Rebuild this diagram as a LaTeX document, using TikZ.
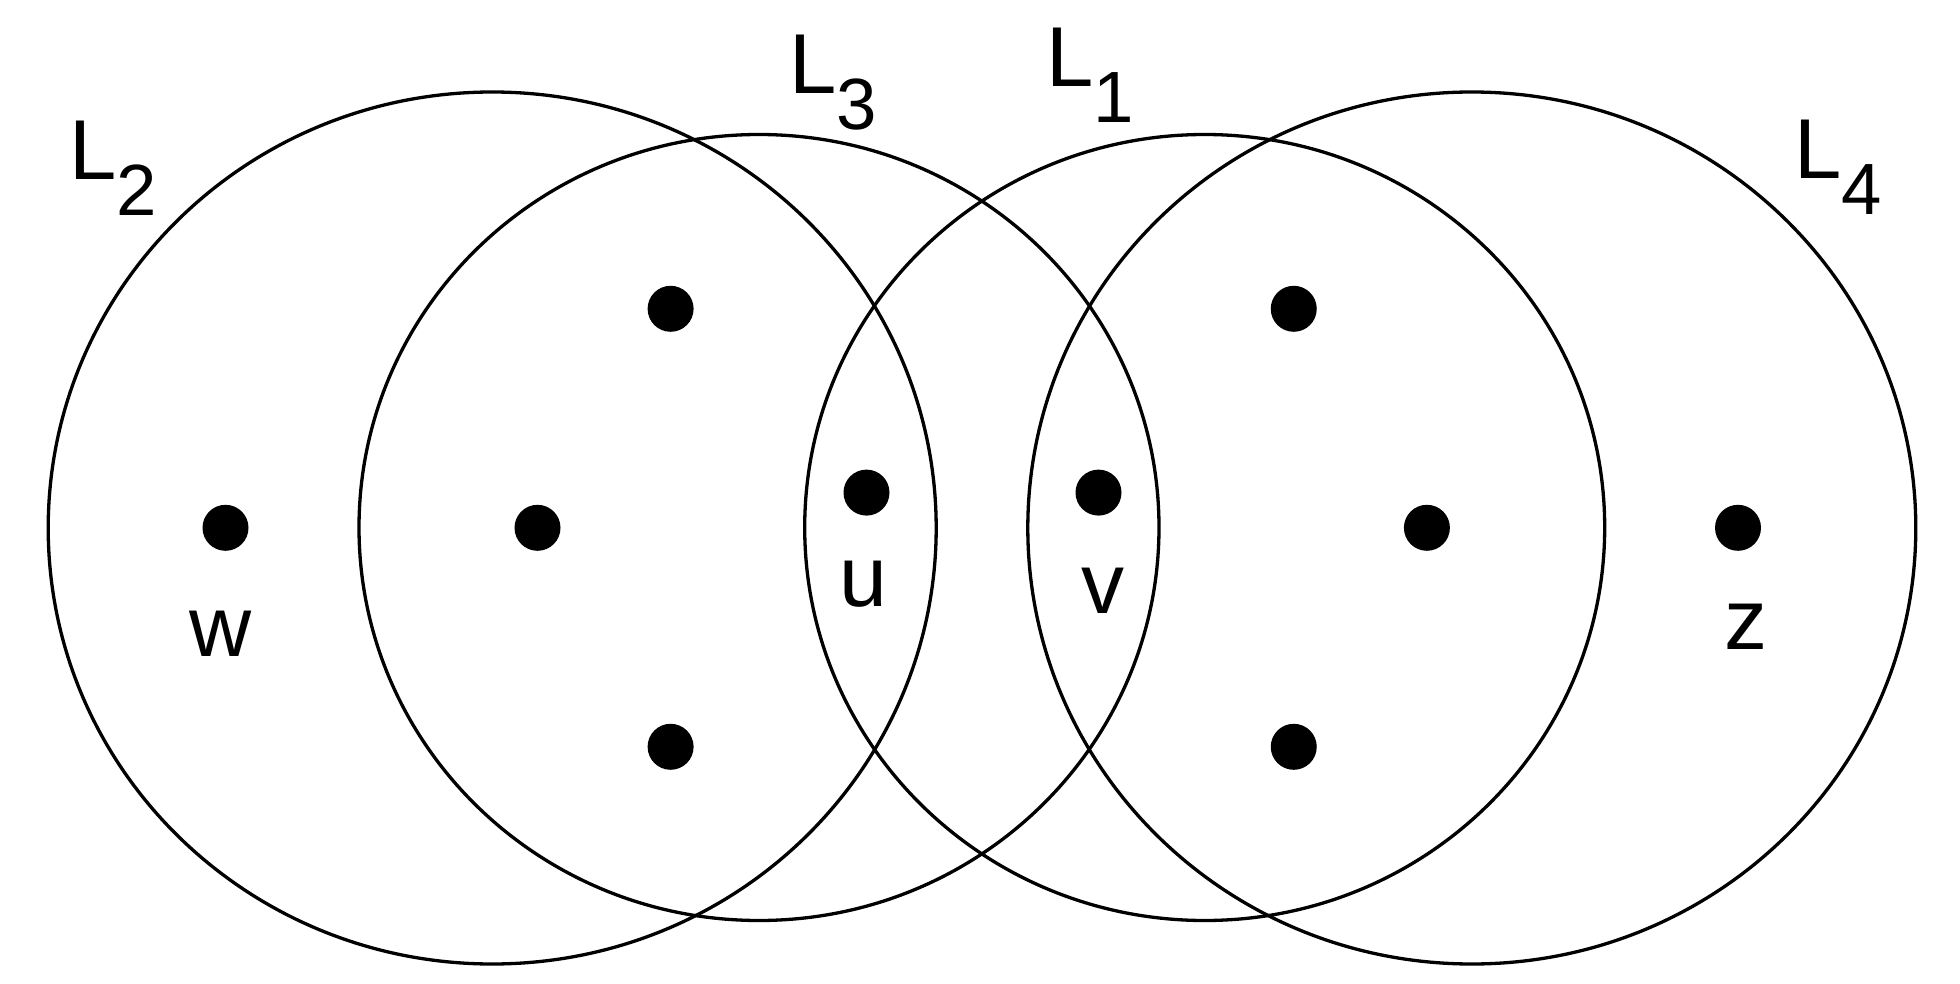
\documentclass[tikz,border=0pt]{standalone}
\usepackage{fontspec}
\setmainfont{Liberation Sans}
\begin{document}
\begin{tikzpicture}[x=1pt,y=-1pt,
  ring/.style={draw=black,line width=3.3pt},
  blob/.style={circle,fill=black,inner sep=0pt,minimum size=46pt},
  setlab/.style={inner sep=0pt,anchor=base west,font=\fontsize{85}{100}\selectfont},
  ptlab/.style={inner sep=0pt,anchor=base,font=\fontsize{86}{100}\selectfont}]
\newcommand{\subdig}[1]{\raisebox{-36pt}{\fontsize{72.6}{80}\selectfont #1}}
\useasboundingbox (0,0) rectangle (1960,984);
\fill[white] (0,0) rectangle (1960,984);
% sets
\draw[ring] (492.2,528) ellipse [x radius=444pt, y radius=436pt];
\draw[ring] (759,527.5) ellipse [x radius=400pt, y radius=393pt];
\draw[ring] (1204.7,527.5) ellipse [x radius=400pt, y radius=393pt];
\draw[ring] (1471.8,528) ellipse [x radius=444pt, y radius=436pt];
% points
\node[blob] (w) at (225.5,527.8) {};
\node[blob] (a) at (537.5,527.8) {};
\node[blob] (b) at (670.6,308.8) {};
\node[blob] (c) at (670.6,746.8) {};
\node[blob] (u) at (866.5,492.6) {};
\node[blob] (v) at (1098.5,492.6) {};
\node[blob] (d) at (1293.75,308.8) {};
\node[blob] (e) at (1426.9,527.8) {};
\node[blob] (f) at (1293.75,746.8) {};
\node[blob] (z) at (1738,527.8) {};
% point labels
\node[ptlab] (wl) at (221,656.7) {w};
\node[ptlab] (ul) at (863.5,606.7) {u};
\node[ptlab] (vl) at (1103,613) {v};
\node[ptlab] (zl) at (1745.6,649.5) {z};
% set labels
\node[setlab] (L2) at (68.8,179.3) {L\subdig{2}};
\node[setlab] (L3) at (789,94) {L\subdig{3}};
\node[setlab] (L1) at (1046.5,86.7) {L\subdig{1}};
\node[setlab] (L4) at (1794,178.9) {L\subdig{4}};
\end{tikzpicture}
\end{document}
